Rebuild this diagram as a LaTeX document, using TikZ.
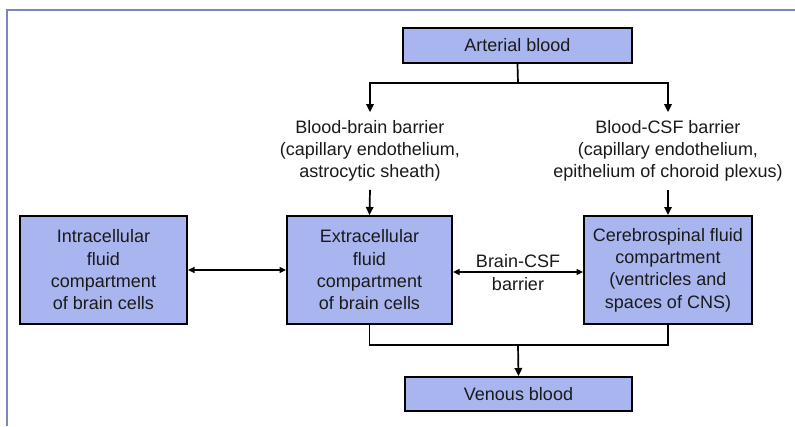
\documentclass[tikz,border=0pt]{standalone}
\usepackage{fontspec}
\setmainfont{Liberation Sans}
\usetikzlibrary{arrows.meta}
\definecolor{boxblue}{HTML}{A9B5EF}
\definecolor{framecol}{HTML}{7C84C4}
\definecolor{ink}{HTML}{1A1A1A}
\begin{document}
\begin{tikzpicture}[x=1pt,y=-1pt,
  txt/.style={font=\fontsize{18}{22.3}\selectfont, text=ink},
  box/.style={txt, draw=black, line width=2pt, fill=boxblue, inner sep=0pt, align=center},
  lbl/.style={txt, align=center, inner xsep=0pt, inner ysep=8pt},
  wire/.style={line width=1.7pt},
  conn/.style={wire, -{Triangle[length=8pt,width=7.5pt]}},
  dconn/.style={line width=1.3pt, {Triangle[length=6.5pt,width=6pt]}-{Triangle[length=6.5pt,width=6pt]}},
]
\useasboundingbox (0,0) rectangle (795,426);
\fill[white] (0,0) rectangle (795,426);
\draw[framecol, line width=2.5pt] (795,10) -- (7,10) -- (7,426);

\node[box, minimum width=229pt, minimum height=35pt] (art) at (517.5,45.5) {Arterial blood};
\node[lbl] (bbb) at (370,151) {Blood-brain barrier\\(capillary endothelium,\\astrocytic sheath)};
\node[lbl] (bcb) at (668,151) {Blood-CSF barrier\\(capillary endothelium,\\epithelium of choroid plexus)};

\node[box, minimum width=167pt, minimum height=108pt] (intra) at (103.5,270) {Intracellular\\fluid\\compartment\\of brain cells};
\node[box, minimum width=165pt, minimum height=108pt] (extra) at (369.5,270) {Extracellular\\fluid\\compartment\\of brain cells};
\node[box, minimum width=168pt, minimum height=108pt] (csf) at (668,270) {Cerebrospinal fluid\\compartment\\(ventricles and\\spaces of CNS)};
\node[box, minimum width=227pt, minimum height=34pt] (ven) at (518.5,394) {Venous blood};
\node[txt, align=center, inner sep=0pt] (bcsf) at (518,272.5) {Brain-CSF\\barrier};

\coordinate (split) at (518,83);
\coordinate (merge) at (518,345);

\draw[wire] (art.south) -- (split);
\draw[conn] (split) -| (bbb.north);
\draw[conn] (split) -| (bcb.north);
\draw[conn] (bbb.south) -- (extra.north);
\draw[conn] (bcb.south) -- (csf.north);

\draw[dconn] (intra.east) -- (extra.west);
\draw[dconn] ([yshift=-2pt]extra.east) -- ([yshift=-2pt]csf.west);

\draw[wire] (extra.south) |- (merge) -| (csf.south);
\draw[conn] (merge) -- (ven.north);
\end{tikzpicture}
\end{document}
